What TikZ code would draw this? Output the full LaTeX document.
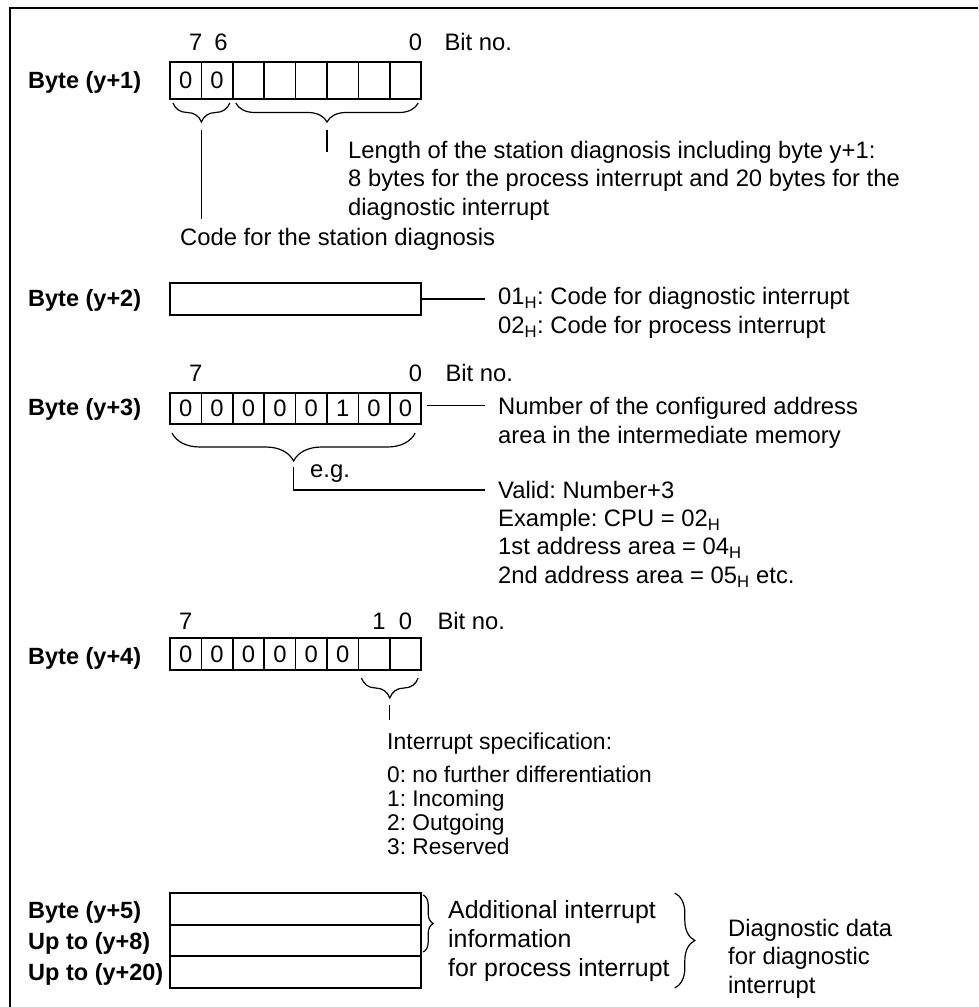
\documentclass[tikz,border=0pt]{standalone}
\usepackage{fontspec}
\setmainfont{Liberation Sans}
\usetikzlibrary{positioning,decorations.pathreplacing,calc}
\frenchspacing

\begin{document}
\begin{tikzpicture}[x=1pt, y=-1pt,
    font=\fontsize{23.8}{28.5}\selectfont,
    bitcell/.style={draw, line width=1.6pt, minimum width=31.4pt, minimum height=#1, inner sep=0pt, outer sep=0pt},
    bytebox/.style={draw, line width=1.6pt, minimum width=251.2pt, minimum height=#1, inner sep=0pt, outer sep=0pt},
    bitno/.style={inner sep=0pt},
    lbl/.style={font=\fontsize{23.5}{28.5}\selectfont\bfseries, anchor=west, inner sep=0pt},
    txt/.style={anchor=west, align=left, inner sep=0pt},
    brc/.style={decorate, decoration={brace, amplitude=#1}, line width=1.2pt},
    conn/.style={line width=1.3pt}
  ]
    \useasboundingbox (0,0) rectangle (978,1007);
    \draw[line width=1.5pt] (978,8) -- (10,8) -- (10,1007);

    % Byte (y+1)
    \foreach \v [count=\k from 0] in {0,0,{},{},{},{},{},{}}
      \node[bitcell=37pt] (b1c\k) at (185.7+31.4*\k, 80.5) {\v};
    \node[lbl] (l1) at (28,82) {Byte (y+1)};
    \node[bitno, above=11pt of b1c0, xshift=10pt] (n17) {7};
    \node[bitno, above=11pt of b1c1, xshift=4pt] (n16) {6};
    \node[bitno, above=11pt of b1c7, xshift=10pt] (n10) {0};
    \node[txt, right=22pt of n10] (bn1) {Bit no.};
    \draw[brc=19pt] ($(b1c1.south east)+(-3,4)$) -- ($(b1c0.south west)+(3,4)$);
    \draw[brc=19pt] ($(b1c7.south east)+(-3,4)$) -- ($(b1c2.south west)+(3,4)$);
    \coordinate (t1) at ($(b1c0.south west)!0.5!(b1c1.south east)+(0,31)$);
    \coordinate (t2) at ($(b1c2.south west)!0.5!(b1c7.south east)+(0,31)$);
    \coordinate (t2e) at ($(t2)+(0,22)$);
    \node[txt] (len) at (348,180.5) {Length of the station diagnosis including byte y+1:\\8 bytes for the process interrupt and 20 bytes for the\\diagnostic interrupt};
    \node[txt] (code) at (180,239) {Code for the station diagnosis};
    \draw[conn, shorten >=9pt] (t1) -- (t1 |- code.north);
    \draw[conn] (t2) -- (t2e);

    % Byte (y+2)
    \node[bytebox=32pt] (b2) at (295.6,299) {};
    \node[lbl] (l2) at (28,300) {Byte (y+2)};
    \node[txt] (ih) at (498,313) {01\textsubscript{H}: Code for diagnostic interrupt\\02\textsubscript{H}: Code for process interrupt};
    \draw[conn, shorten >=13pt] (b2.east) -- (b2.east -| ih.west);

    % Byte (y+3)
    \foreach \v [count=\k from 0] in {0,0,0,0,0,1,0,0}
      \node[bitcell=31pt] (b3c\k) at (185.7+31.4*\k, 408.5) {\v};
    \node[lbl] (l3) at (28,409) {Byte (y+3)};
    \node[bitno, above=11pt of b3c0, xshift=10pt] (n37) {7};
    \node[bitno, above=11pt of b3c7, xshift=10pt] (n30) {0};
    \node[txt, right=23pt of n30] (bn3) {Bit no.};
    \node[txt] (num) at (498,423) {Number of the configured address\\area in the intermediate memory};
    \draw[conn, shorten <=6pt, shorten >=13pt] ([yshift=3pt]b3c7.east) -- ([yshift=3pt]b3c7.east -| num.west);
    \draw[brc=28pt] ($(b3c7.south east)+(-6,9)$) -- ($(b3c0.south west)+(2,9)$);
    \coordinate (t3) at ($(b3c0.south west)!0.5!(b3c7.south east)+(-2,43)$);
    \node[txt] (eg) at (310,474) {e.g.};
    \node[txt] (valid) at (498,490) {Valid: Number+3};
    \draw[conn, shorten >=13pt] (t3) |- (valid.west);
    \node[txt, below right=10pt and 0pt of valid.south west] (ex) {Example: CPU = 02\textsubscript{H}\\1st address area = 04\textsubscript{H}\\2nd address area = 05\textsubscript{H} etc.};

    % Byte (y+4)
    \foreach \v [count=\k from 0] in {0,0,0,0,0,0,{},{}}
      \node[bitcell=32pt] (b4c\k) at (185.7+31.4*\k, 654) {\v};
    \node[lbl] (l4) at (28,658) {Byte (y+4)};
    \node[bitno, above=8pt of b4c0] (n47) {7};
    \node[bitno, above=8pt of b4c6, xshift=5pt] (n41) {1};
    \node[bitno, above=8pt of b4c7] (n40) {0};
    \node[txt, right=25pt of n40] (bn4) {Bit no.};
    \draw[brc=20pt] ($(b4c7.south east)+(-3,8)$) -- ($(b4c6.south west)+(3,8)$);
    \coordinate (t4) at ($(b4c6.south west)!0.5!(b4c7.south east)+(0,35)$);
    \node[txt, font=\fontsize{23}{24}\selectfont] (spec) at (387,744) {Interrupt specification:};
    \draw[conn, shorten >=13pt] (t4) -- (t4 |- spec.north);
    \node[txt, font=\fontsize{22.7}{24}\selectfont, below right=11pt and 0pt of spec.south west] (kinds) {0: no further differentiation\\1: Incoming\\2: Outgoing\\3: Reserved};

    % Byte (y+5) up to (y+20)
    \node[bytebox=32pt] (b5) at (295.6,909) {};
    \node[bytebox=31pt, below=0pt of b5] (b8) {};
    \node[bytebox=32pt, below=0pt of b8] (b20) {};
    \node[lbl] (l5) at (28,912) {Byte (y+5)};
    \node[lbl] (l8) at (28,943) {Up to (y+8)};
    \node[lbl] (l20) at (28,974) {Up to (y+20)};
    \draw[brc=10pt] ($(b5.north east)+(2,2)$) -- ($(b8.south east)+(2,-4)$);
    \node[txt, font=\fontsize{24.9}{29}\selectfont] (add) at (448,941) {Additional interrupt\\information\\for process interrupt};
    \draw[brc=20pt] ($(b5.north -| add.east)+(5,0)$) -- ($(b20.south -| add.east)+(5,0)$);
    \node[txt] (diag) at (728,958.5) {Diagnostic data\\for diagnostic\\interrupt};
  \end{tikzpicture}
\end{document}
